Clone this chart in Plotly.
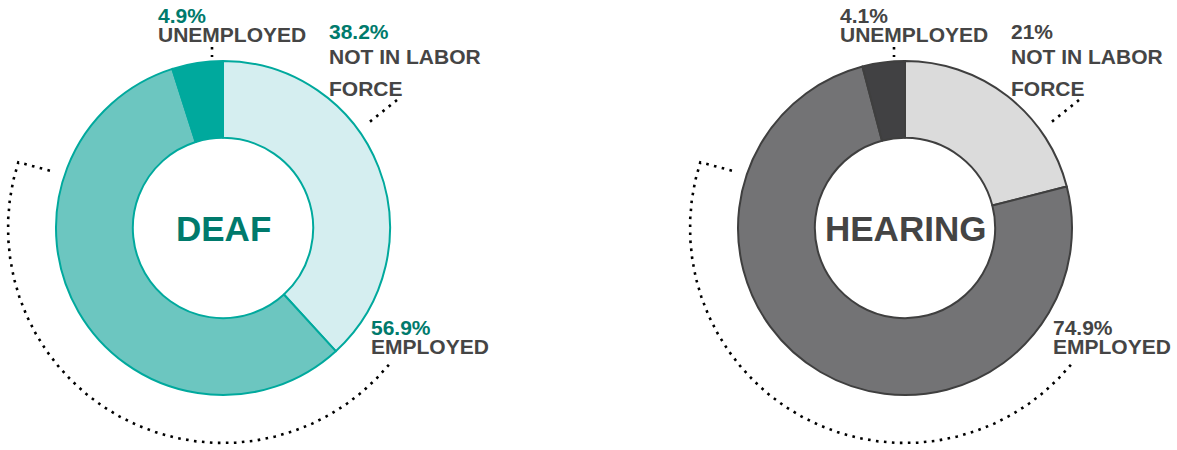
import numpy as np
import plotly.graph_objects as go

# ---------------- data ----------------
categories = ["NOT IN LABOR FORCE", "EMPLOYED", "UNEMPLOYED"]
category_lines = [["NOT IN LABOR", "FORCE"], ["EMPLOYED"], ["UNEMPLOYED"]]
groups = ["DEAF", "HEARING"]
deaf_values = [38.2, 56.9, 4.9]
hearing_values = [21, 74.9, 4.1]

# ---------------- styling / layout ----------------
W, H = 1177, 450
CY = 228
R = 167
HOLE = 0.54
FONT = "Liberation Sans, Arial, sans-serif"
LABEL_GREY = "#454545"

styles = {
    "DEAF": dict(cx=223, colors=["#D5EEF0", "#6CC6C0", "#00A99D"], line="#00A99D",
                 pct="#007A6C", title="#007A6C"),
    "HEARING": dict(cx=905, colors=["#DBDBDB", "#737375", "#414143"], line="#3F3F3F",
                    pct="#444444", title="#444444"),
}

# label placement relative to donut centre (pixels): x offset, y of percent, y of lines
label_pos = {
    "NOT IN LABOR FORCE": (105, 31, [56, 88]),
    "EMPLOYED": (147, 327, [346]),
    "UNEMPLOYED": (-66, 15, [34.5]),
}
# dotted leaders relative to centre
leaders = {
    "NOT IN LABOR FORCE": [(174, -128), (144, -104)],
    "UNEMPLOYED": [(-11, -181), (-11, -171)],
}
ARC_R = 215
ARC_START, ARC_END = -39.5, -197.8
ARC_TAIL = (-168, -56)
DOT = dict(color="black", width=2.6, dash="2.6px,5.4px")

fig = go.Figure()
annotations = []

for g, vals in zip(groups, [deaf_values, hearing_values]):
    st = styles[g]
    cx = st["cx"]
    fig.add_trace(go.Pie(
        labels=categories, values=vals, sort=False, direction="clockwise", rotation=0,
        hole=HOLE, textinfo="none", hoverinfo="label+percent", showlegend=False,
        marker=dict(colors=st["colors"], line=dict(color=st["line"], width=2)),
        domain=dict(x=[(cx - R) / W, (cx + R) / W],
                    y=[(H - CY - R) / H, (H - CY + R) / H]),
    ))
    # centre title
    annotations.append(dict(x=cx, y=CY, xref="x", yref="y", text=g, showarrow=False,
                            xanchor="center", yanchor="middle",
                            font=dict(family=FONT, size=35, color=st["title"], weight="bold")))
    # labels
    for cat, lines, v in zip(categories, category_lines, vals):
        dx, py, lys = label_pos[cat]
        annotations.append(dict(x=cx + dx, y=py, xref="x", yref="y", text=f"{v:g}%",
                                showarrow=False, xanchor="left", yanchor="middle", borderpad=0,
                                font=dict(family=FONT, size=21, color=st["pct"], weight="bold")))
        for ln, ly in zip(lines, lys):
            annotations.append(dict(x=cx + dx, y=ly, xref="x", yref="y", text=ln,
                                    showarrow=False, xanchor="left", yanchor="middle", borderpad=0,
                                    font=dict(family=FONT, size=21, color=LABEL_GREY, weight="bold")))
    # leaders
    for cat, pts in leaders.items():
        fig.add_trace(go.Scatter(x=[cx + p[0] for p in pts], y=[CY + p[1] for p in pts],
                                 mode="lines", line=DOT, hoverinfo="skip", showlegend=False))
    th = np.radians(np.linspace(ARC_START, ARC_END, 240))
    ax = list(cx + ARC_R * np.cos(th)) + [cx + ARC_TAIL[0]]
    ay = list(CY - ARC_R * np.sin(th)) + [CY + ARC_TAIL[1]]
    fig.add_trace(go.Scatter(x=ax, y=ay, mode="lines", line=DOT, hoverinfo="skip",
                             showlegend=False))

fig.update_layout(
    width=W, height=H, margin=dict(l=0, r=0, t=0, b=0),
    paper_bgcolor="white", plot_bgcolor="rgba(0,0,0,0)",
    xaxis=dict(range=[0, W], visible=False, fixedrange=True),
    yaxis=dict(range=[H, 0], visible=False, fixedrange=True),
    annotations=annotations,
)

fig.write_html("out.html", config={"displayModeBar": False},
               post_script="document.body.style.margin='0px';")
